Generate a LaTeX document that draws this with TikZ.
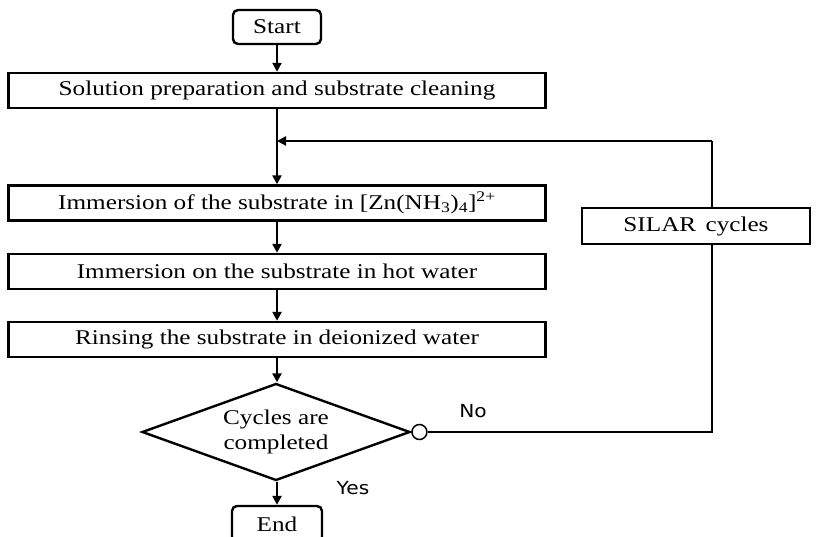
\documentclass[tikz,border=0pt]{standalone}
\usepackage{fontspec}
\setmainfont{Liberation Serif}[FakeStretch=1.2]
\newfontfamily\labelfont{DejaVu Sans}[FakeStretch=1.12]
\usetikzlibrary{shapes.geometric,arrows.meta}
\begin{document}
\begin{tikzpicture}[x=1pt,y=-1pt,
  every node/.style={inner sep=0pt},
  txt/.style={font=\fontsize{21}{25}\selectfont},
  stepbox/.style={txt,draw,line width=2.4pt,minimum width=537pt,minimum height=35pt,fill=white},
  termbox/.style={txt,draw,line width=2.4pt,rounded corners=5pt,minimum width=88pt,minimum height=34pt,fill=white},
  decision/.style={txt,draw,line width=2.4pt,shape=diamond,aspect=2.75,minimum width=268pt,minimum height=97pt,align=center},
  conn/.style={line width=2.4pt,-{Triangle[length=9pt,width=9pt]}},
  plain/.style={line width=2.4pt},
  yn/.style={font=\labelfont\fontsize{18}{20}\selectfont}]
\useasboundingbox (0,0) rectangle (829,537);
\node[termbox] (start) at (277,27) {Start};
\node[stepbox] (s1) at (277,90.5) {Solution preparation and substrate cleaning};
\node[stepbox] (s2) at (277,203) {Immersion of the substrate in [Zn(NH\textsubscript{3})\textsubscript{4}]\textsuperscript{2+}};
\node[stepbox] (s3) at (277,271.5) {Immersion on the substrate in hot water};
\node[stepbox] (s4) at (277,339.5) {Rinsing the substrate in deionized water};
\node[decision] (dec) at (276,432) {Cycles are\\completed};
\node[draw,line width=1.5pt,circle,minimum size=15pt,fill=white,anchor=west] (knob) at (dec.east) {};
\node[termbox,minimum width=90pt,minimum height=36pt] (end) at (277,524) {End};
\coordinate (c1) at (712,432);
\coordinate (c2) at (712,141);
\coordinate (c3) at (277,141);
\draw[conn] (start) -- (s1);
\draw[conn] (s1) -- (s2);
\draw[conn] (s2) -- (s3);
\draw[conn] (s3) -- (s4);
\draw[conn] (s4.south -| end.north) -- (end.north |- dec.north);
\draw[conn] (end.north |- dec.south) -- (end.north);
\draw[plain] (knob.east) -- (c1) -- (c2);
\draw[conn] (c2) -- (c3);
\node[txt,draw,line width=2.4pt,fill=white,minimum width=228pt,minimum height=36pt] (silar) at (696,226) {SILAR\hspace{3pt} cycles};
\node[yn] (no) at (473,411) {No};
\node[yn] (yes) at (353,488) {Yes};
\end{tikzpicture}
\end{document}
